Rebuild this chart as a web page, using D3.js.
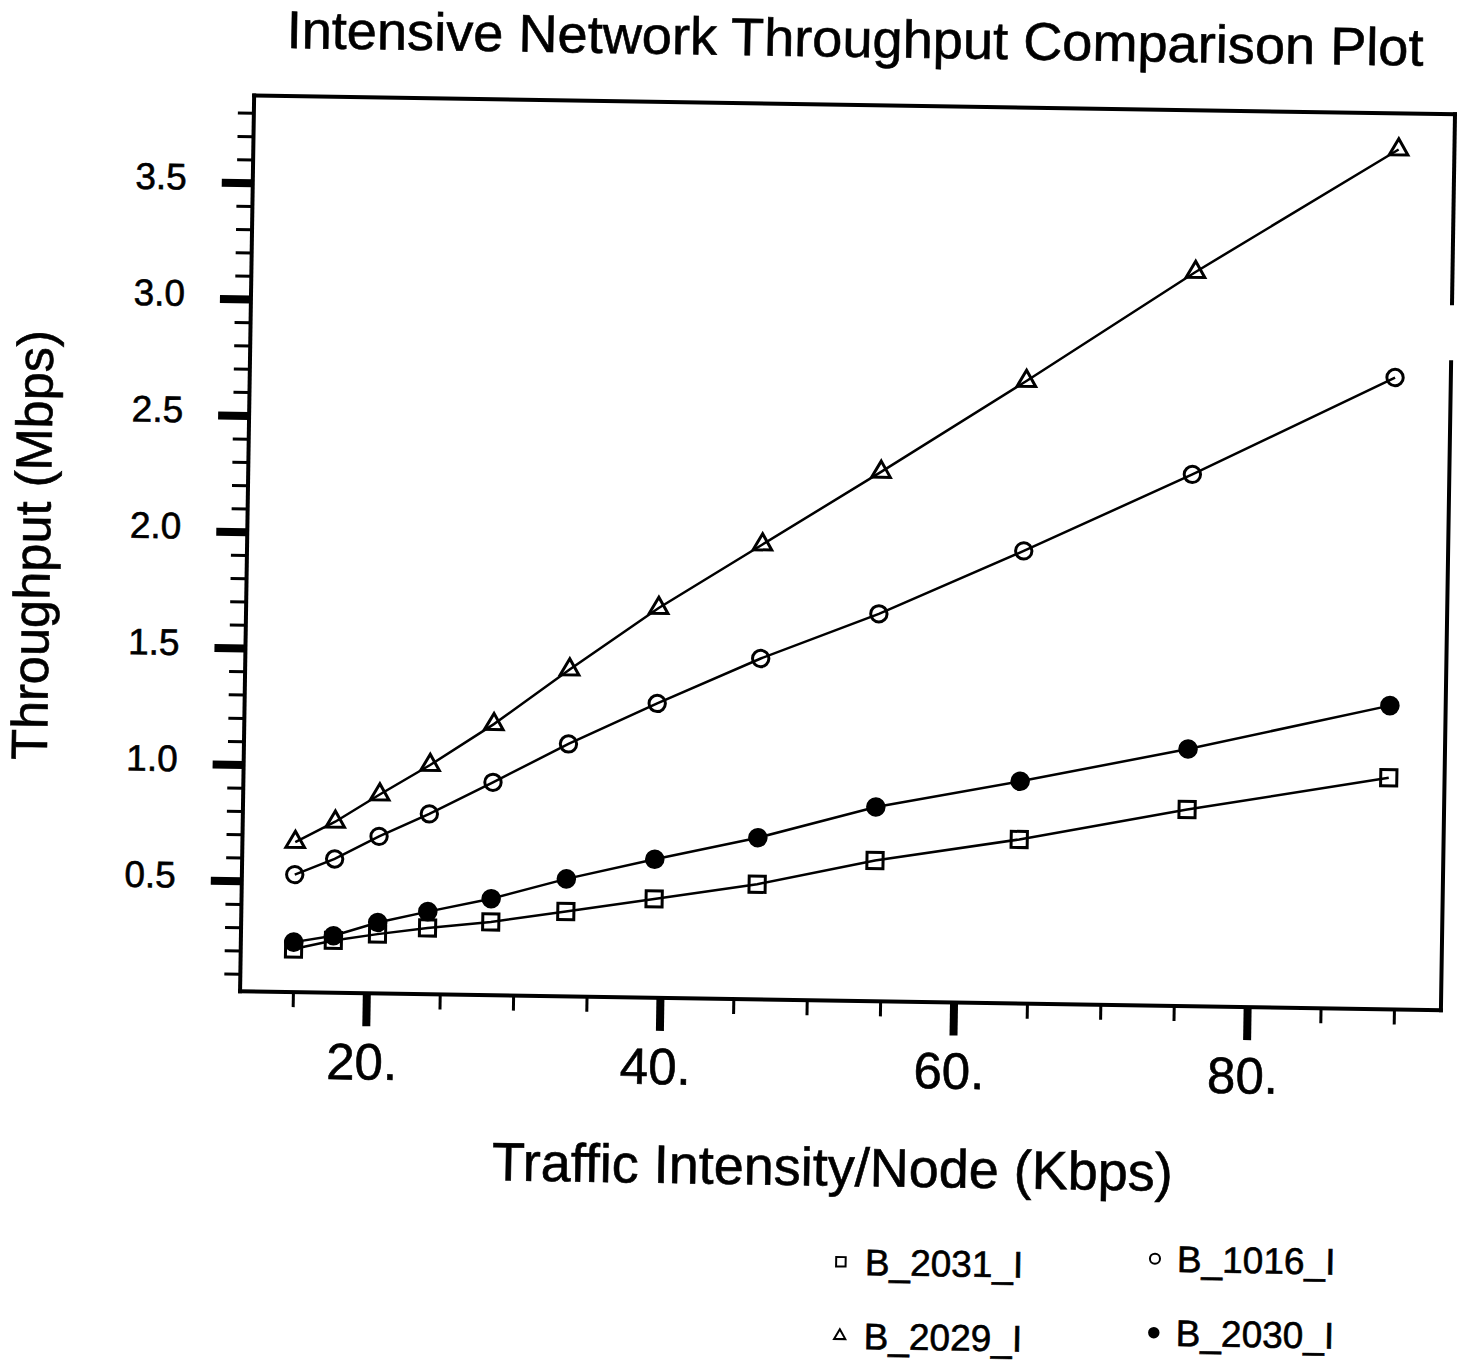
<!DOCTYPE html>
<html>
<head>
<meta charset="utf-8">
<script src="https://cdn.jsdelivr.net/npm/d3@7"></script>
<style>
  html, body { margin: 0; padding: 0; background: #fff; }
  svg { display: block; }
  text { font-family: "Liberation Sans", Arial, Helvetica, sans-serif; fill: #000;
         stroke: #000; stroke-width: 0.6px; }
</style>
</head>
<body>
<svg id="chart" width="1464" height="1362"></svg>
<script>
// Traffic intensity per node (Kbps) at which each run was measured
const intensity = [15.0, 17.7, 20.7, 24.1, 28.4, 33.5, 39.5, 46.5, 54.5, 64.3, 75.7, 89.4];

// Measured throughput (Mbps) for each configuration
const b2031 = [0.21, 0.25, 0.28, 0.31, 0.34, 0.39, 0.45, 0.52, 0.63, 0.73, 0.87, 1.02];
const b1016 = [0.53, 0.60, 0.70, 0.80, 0.94, 1.11, 1.29, 1.49, 1.69, 1.97, 2.31, 2.74];
const b2029 = [0.67, 0.76, 0.88, 1.01, 1.19, 1.43, 1.70, 1.98, 2.30, 2.70, 3.18, 3.72];
const b2030 = [0.24, 0.27, 0.33, 0.38, 0.44, 0.53, 0.62, 0.72, 0.86, 0.98, 1.13, 1.33];

const seriesNames = ["B_2031_I", "B_1016_I", "B_2029_I", "B_2030_I"];
const seriesValues = [b2031, b1016, b2029, b2030];

// Axis ticks
const xMajorTicks = [20, 40, 60, 80];
const xMinorTicks = [15, 25, 30, 35, 45, 50, 55, 65, 70, 75, 85, 90];
const yMajorTicks = [0.5, 1.0, 1.5, 2.0, 2.5, 3.0, 3.5];
const yMinorTicks = [0.1, 0.2, 0.3, 0.4, 0.6, 0.7, 0.8, 0.9, 1.1, 1.2, 1.3, 1.4, 1.6, 1.7, 1.8, 1.9,
                     2.1, 2.2, 2.3, 2.4, 2.6, 2.7, 2.8, 2.9, 3.1, 3.2, 3.3, 3.4, 3.6, 3.7, 3.8];

const titleText = "Intensive Network Throughput Comparison Plot";
const xTitle = "Traffic Intensity/Node (Kbps)";
const yTitle = "Throughput (Mbps)";

// ---- layout ----
const frame = { left: 245, right: 1446, top: 103, bottom: 999 };
const x = d3.scaleLinear().domain([11.4, 93.2]).range([frame.left, frame.right]);
const y = d3.scaleLinear().domain([0.025, 3.875]).range([frame.bottom, frame.top]);

const svg = d3.select("#chart");
svg.append("rect").attr("width", 1464).attr("height", 1362).attr("fill", "#fff");

// the whole sheet sits slightly askew on the page
const root = svg.append("g").attr("transform", "rotate(0.9, 732, 681)");

// title
root.append("text")
  .attr("x", 845).attr("y", 55)
  .attr("text-anchor", "middle")
  .attr("font-size", 53)
  .attr("textLength", 1137).attr("lengthAdjust", "spacingAndGlyphs")
  .text(titleText);

// ---- axes ----
function styleAxis(g, width) {
  g.select(".domain").remove();
  g.selectAll(".tick line").attr("stroke", "#000").attr("stroke-width", width);
}

// x minor ticks
root.append("g")
  .attr("transform", `translate(0,${frame.bottom})`)
  .call(d3.axisBottom(x).tickValues(xMinorTicks).tickSize(15).tickFormat(""))
  .call(g => styleAxis(g, 3));

// x major ticks + labels
root.append("g")
  .attr("transform", `translate(0,${frame.bottom})`)
  .call(d3.axisBottom(x).tickValues(xMajorTicks).tickSize(33).tickPadding(17)
        .tickFormat(d => d + "."))
  .call(g => styleAxis(g, 8))
  .call(g => g.selectAll(".tick text")
        .attr("font-size", 51).attr("dx", -4)
        .attr("font-family", "'Liberation Sans', Arial, sans-serif").attr("fill", "#000"));

// y minor ticks
root.append("g")
  .attr("transform", `translate(${frame.left},0)`)
  .call(d3.axisLeft(y).tickValues(yMinorTicks).tickSize(16).tickFormat(""))
  .call(g => styleAxis(g, 3));

// y major ticks + labels
root.append("g")
  .attr("transform", `translate(${frame.left},0)`)
  .call(d3.axisLeft(y).tickValues(yMajorTicks).tickSize(31).tickPadding(35)
        .tickFormat(d3.format(".1f")))
  .call(g => styleAxis(g, 8))
  .call(g => g.selectAll(".tick text")
        .attr("font-size", 37).attr("dy", "0.2em")
        .attr("font-family", "'Liberation Sans', Arial, sans-serif").attr("fill", "#000"));

// frame (the right edge carries a short break)
const frameSegs = [
  [[frame.left, frame.top], [frame.right, frame.top]],
  [[frame.left, frame.top], [frame.left, frame.bottom]],
  [[frame.left, frame.bottom], [frame.right, frame.bottom]],
  [[frame.right, frame.top], [frame.right, 292]],
  [[frame.right, 351], [frame.right, frame.bottom]]
];
root.append("g").selectAll("line").data(frameSegs).join("line")
  .attr("x1", d => d[0][0]).attr("y1", d => d[0][1])
  .attr("x2", d => d[1][0]).attr("y2", d => d[1][1])
  .attr("stroke", "#000").attr("stroke-width", 4).attr("stroke-linecap", "square");

// axis titles
root.append("text")
  .attr("x", 840).attr("y", 1184)
  .attr("text-anchor", "middle")
  .attr("font-size", 54)
  .attr("textLength", 681).attr("lengthAdjust", "spacingAndGlyphs")
  .text(xTitle);

root.append("text")
  .attr("transform", "translate(48,556) rotate(-90)")
  .attr("text-anchor", "middle")
  .attr("font-size", 51)
  .attr("textLength", 430).attr("lengthAdjust", "spacingAndGlyphs")
  .text(yTitle);

// ---- series ----
const markers = {
  "B_2031_I": { type: d3.symbolSquare, size: 260, fill: "none" },
  "B_1016_I": { type: d3.symbolCircle, size: 210, fill: "none" },
  "B_2029_I": { type: d3.symbolTriangle, size: 150, fill: "none" },
  "B_2030_I": { type: d3.symbolCircle, size: 215, fill: "#000" }
};

const line = d3.line().x(d => x(d[0])).y(d => y(d[1]));

const plot = root.append("g");
seriesNames.forEach((name, i) => {
  const pts = intensity.map((v, j) => [v, seriesValues[i][j]]);
  plot.append("path")
    .datum(pts)
    .attr("d", line)
    .attr("fill", "none")
    .attr("stroke", "#000")
    .attr("stroke-width", 2.5);
  const m = markers[name];
  plot.append("g").selectAll("path").data(pts).join("path")
    .attr("transform", d => `translate(${x(d[0])},${y(d[1])})`)
    .attr("d", d3.symbol().type(m.type).size(m.size))
    .attr("fill", m.fill)
    .attr("stroke", "#000")
    .attr("stroke-width", 3);
});

// ---- legend (two columns, the right one set a little higher) ----
const legendOrder = ["B_2031_I", "B_1016_I", "B_2029_I", "B_2030_I"];
const colX = [850, 1164];
const colShift = [0, -8];
const rowY = [1260, 1334];
const textGap = [24, 22];
const legendSizes = { "B_2031_I": 90, "B_1016_I": 80, "B_2029_I": 55, "B_2030_I": 70 };
const legend = root.append("g");
legendOrder.forEach((name, k) => {
  const c = k % 2;
  const cx = colX[c], cy = rowY[Math.floor(k / 2)] + colShift[c];
  const m = markers[name];
  legend.append("path")
    .attr("transform", `translate(${cx},${cy})`)
    .attr("d", d3.symbol().type(m.type).size(legendSizes[name]))
    .attr("fill", m.fill)
    .attr("stroke", "#000")
    .attr("stroke-width", 2);
  legend.append("text")
    .attr("x", cx + textGap[c]).attr("y", cy + 13)
    .attr("font-size", 37)
    .text(name);
});
</script>
</body>
</html>
